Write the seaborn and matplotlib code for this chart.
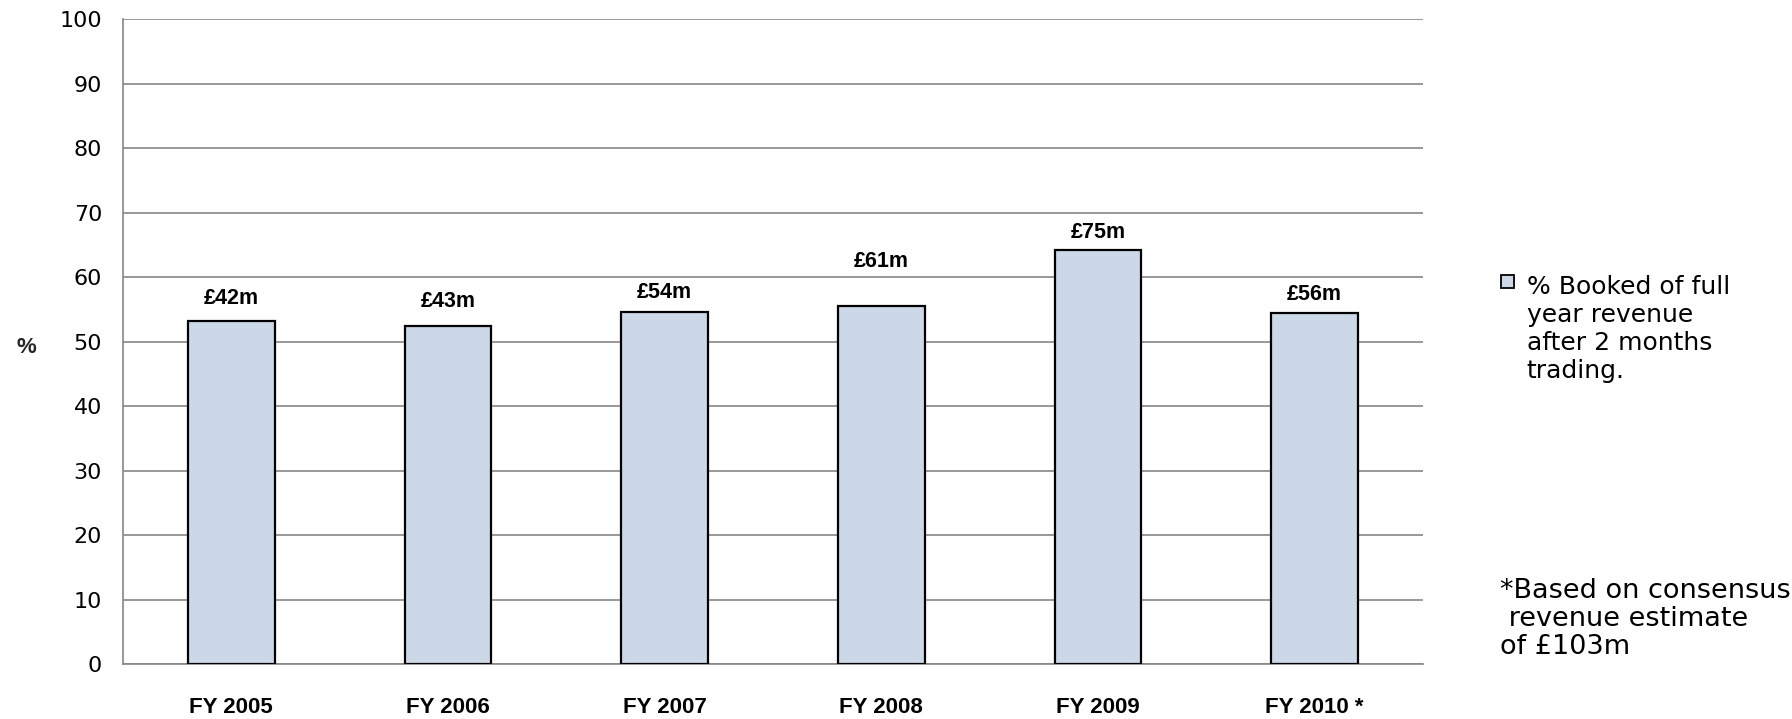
import numpy as np
import pandas as pd
import matplotlib
matplotlib.use('Agg')
import matplotlib.pyplot as plt
import seaborn as sns
from matplotlib.patches import Rectangle

# Data
years = ['FY 2005', 'FY 2006', 'FY 2007', 'FY 2008', 'FY 2009', 'FY 2010 *']
pct_booked = [53.2, 52.5, 54.6, 55.5, 64.2, 54.4]
revenue_labels = ['£42m', '£43m', '£54m', '£61m', '£75m', '£56m']
label_heights = [56.7, 56.2, 57.6, 62.4, 67.0, 57.3]
y_ticks = [0, 10, 20, 30, 40, 50, 60, 70, 80, 90, 100]

legend_text = '% Booked of full\nyear revenue\nafter 2 months\ntrading.'
footnote = '*Based on consensus\n revenue estimate\nof £103m'

BAR_COLOR = '#CCD8E7'
GRID_COLOR = '#868686'

sns.set_style('white')
plt.rcParams['font.family'] = ['DejaVu Sans']
plt.rcParams['text.color'] = 'black'
plt.rcParams['xtick.color'] = 'black'
plt.rcParams['ytick.color'] = 'black'

df = pd.DataFrame({'Year': years, 'Pct': pct_booked})

fig = plt.figure(figsize=(17.92, 7.19), dpi=100)
ax = fig.add_axes([0.0686, 0.0765, 0.7254, 0.8965])

sns.barplot(data=df, x='Year', y='Pct', color=BAR_COLOR, width=0.4,
            edgecolor='black', linewidth=1.6, saturation=1, ax=ax, zorder=3)

ax.set_ylim(0, 100)
ax.set_xlim(-0.5, len(years) - 0.5)
ax.set_yticks(y_ticks)
ax.yaxis.grid(True, color=GRID_COLOR, linewidth=1.2, zorder=0)
ax.set_axisbelow(True)

for s in ['top', 'right']:
    ax.spines[s].set_visible(False)
for s in ['left', 'bottom']:
    ax.spines[s].set_color(GRID_COLOR)
    ax.spines[s].set_linewidth(1.2)

# category boundaries as tick marks
ax.set_xticks(np.arange(-0.5, len(years)), minor=True)
ax.tick_params(axis='x', which='minor', length=9, color=GRID_COLOR, width=1.2, direction='out')
ax.tick_params(axis='x', which='major', length=0, pad=24)
ax.tick_params(axis='y', length=8, color=GRID_COLOR, width=1.2, direction='out',
               labelsize=16, pad=7)
for lbl in ax.get_xticklabels():
    lbl.set_fontfamily(['Liberation Sans'])
    lbl.set_fontweight('bold')
    lbl.set_fontsize(16)

ax.set_xlabel('')
ax.set_ylabel('%', rotation=0, fontsize=16, fontweight='bold', fontfamily=['Liberation Sans'])
ax.yaxis.set_label_coords(-0.074, 0.475)

for i, (txt, h) in enumerate(zip(revenue_labels, label_heights)):
    ax.text(i, h, txt, ha='center', va='center', fontsize=15.5, fontweight='bold',
            fontfamily=['Liberation Sans'])

# legend drawn by hand so the swatch sits on the first line
fig.patches.append(Rectangle((0.8376, 0.6000), 0.0073, 0.0181, transform=fig.transFigure,
                             facecolor=BAR_COLOR, edgecolor='black', linewidth=1.3))
fig.text(0.852, 0.5424, legend_text, fontsize=18, ha='left', va='center', linespacing=1.2)

fig.text(0.8370, 0.139, footnote, fontsize=19.5, ha='left', va='center', linespacing=1.12)

fig.savefig('out.png', dpi=100)
